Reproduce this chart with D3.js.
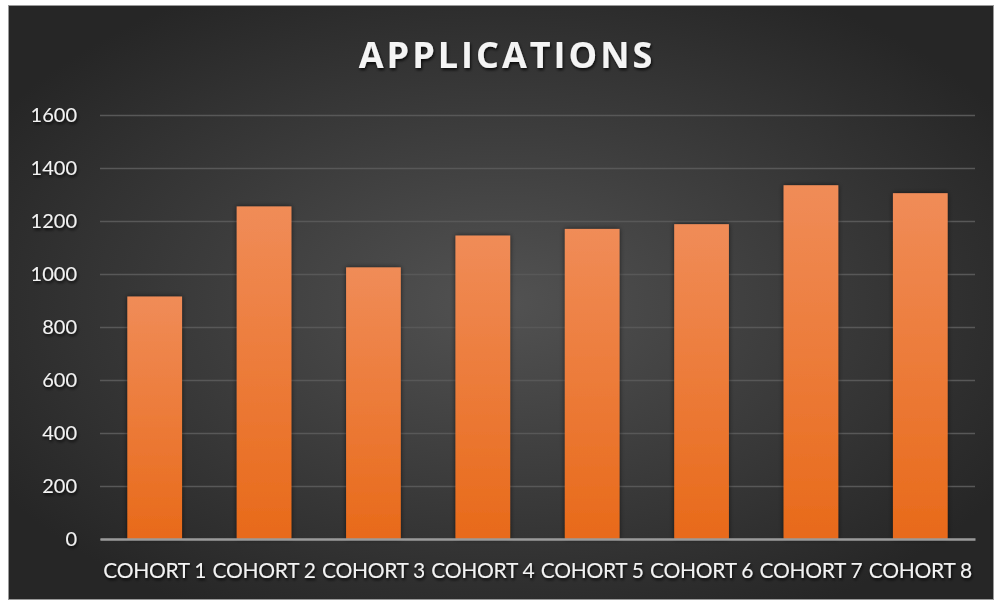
<!DOCTYPE html>
<html>
<head>
<meta charset="utf-8">
<script src="https://cdn.jsdelivr.net/npm/d3@7"></script>
<style>
  html, body { margin: 0; padding: 0; background: #fff; }
  svg { display: block; }
  .tick text { font-family: Lato, "Open Sans", sans-serif; fill: #f2f2f2; }
</style>
</head>
<body>
<div id="chart"></div>
<script>
const categories = ['COHORT 1', 'COHORT 2', 'COHORT 3', 'COHORT 4', 'COHORT 5', 'COHORT 6', 'COHORT 7', 'COHORT 8'];
const applications = [915, 1255, 1025, 1145, 1170, 1188, 1335, 1305];
const yTicks = [0, 200, 400, 600, 800, 1000, 1200, 1400, 1600];

const width = 994, height = 600;
const margin = {top: 115, right: 19, bottom: 61, left: 100};

const svg = d3.select('#chart').append('svg')
    .attr('width', width)
    .attr('height', height);

const defs = svg.append('defs');

// dark radial backdrop
const bg = defs.append('radialGradient')
    .attr('id', 'bg')
    .attr('cx', '50%').attr('cy', '50%').attr('r', '60%');
bg.append('stop').attr('offset', '0%').attr('stop-color', '#525252');
bg.append('stop').attr('offset', '100%').attr('stop-color', '#262626');

const barFill = defs.append('linearGradient')
    .attr('id', 'barFill')
    .attr('x1', 0).attr('y1', 0).attr('x2', 0).attr('y2', 1);
barFill.append('stop').attr('offset', '0%').attr('stop-color', '#f08c58');
barFill.append('stop').attr('offset', '100%').attr('stop-color', '#e86a1a');

const shadow = defs.append('filter').attr('id', 'shadow')
    .attr('x', '-20%').attr('y', '-20%').attr('width', '140%').attr('height', '140%');
shadow.append('feDropShadow')
    .attr('dx', 0).attr('dy', 0).attr('stdDeviation', 2.5)
    .attr('flood-color', '#000').attr('flood-opacity', 0.6);

const titleShadow = defs.append('filter').attr('id', 'titleShadow');
titleShadow.append('feDropShadow')
    .attr('dx', 1).attr('dy', 2).attr('stdDeviation', 1.5)
    .attr('flood-color', '#000').attr('flood-opacity', 0.8);

svg.append('rect')
    .attr('x', 8.5).attr('y', 5.5)
    .attr('width', width - 9).attr('height', height - 6)
    .attr('fill', 'url(#bg)')
    .attr('stroke', '#9a9a9a');

const x = d3.scaleBand()
    .domain(categories)
    .range([margin.left, width - margin.right])
    .paddingInner(0.5)
    .paddingOuter(0.25);

const y = d3.scaleLinear()
    .domain([0, 1600])
    .range([height - margin.bottom, margin.top]);

// gridlines
svg.append('g')
    .attr('transform', `translate(${margin.left},0)`)
    .call(d3.axisLeft(y).tickValues(yTicks).tickSize(-(width - margin.left - margin.right)).tickFormat(''))
    .call(g => g.select('.domain').remove())
    .call(g => g.selectAll('.tick line').attr('stroke', '#585858').attr('stroke-width', 1.5));

// y labels
svg.append('g')
    .attr('transform', `translate(${margin.left - 23},0)`)
    .call(d3.axisLeft(y).tickValues(yTicks).tickSize(0).tickPadding(0).tickFormat(d3.format('d')))
    .call(g => g.select('.domain').remove())
    .call(g => g.selectAll('.tick text')
        .attr('font-size', 20)
        .attr('filter', 'url(#titleShadow)'));

svg.append('g')
    .selectAll('rect')
    .data(applications)
    .join('rect')
    .attr('x', (d, i) => x(categories[i]))
    .attr('y', d => y(d))
    .attr('width', x.bandwidth())
    .attr('height', d => y(0) - y(d))
    .attr('fill', 'url(#barFill)')
    .attr('filter', 'url(#shadow)');

// baseline + category labels
svg.append('g')
    .attr('transform', `translate(0,${y(0)})`)
    .call(d3.axisBottom(x).tickSize(0).tickPadding(24))
    .call(g => g.select('.domain').attr('stroke', '#9a9a9a').attr('stroke-width', 2.5))
    .call(g => g.selectAll('.tick text')
        .attr('font-size', 21)
        .attr('letter-spacing', '-0.3px')
        .attr('filter', 'url(#titleShadow)'));

svg.append('text')
    .attr('x', 507)
    .attr('y', 68)
    .attr('text-anchor', 'middle')
    .attr('font-family', '"Open Sans", Lato, sans-serif')
    .attr('font-weight', 700)
    .attr('font-size', 36)
    .attr('letter-spacing', '3px')
    .attr('fill', '#f4f4f4')
    .attr('filter', 'url(#titleShadow)')
    .text('APPLICATIONS');
</script>
</body>
</html>
